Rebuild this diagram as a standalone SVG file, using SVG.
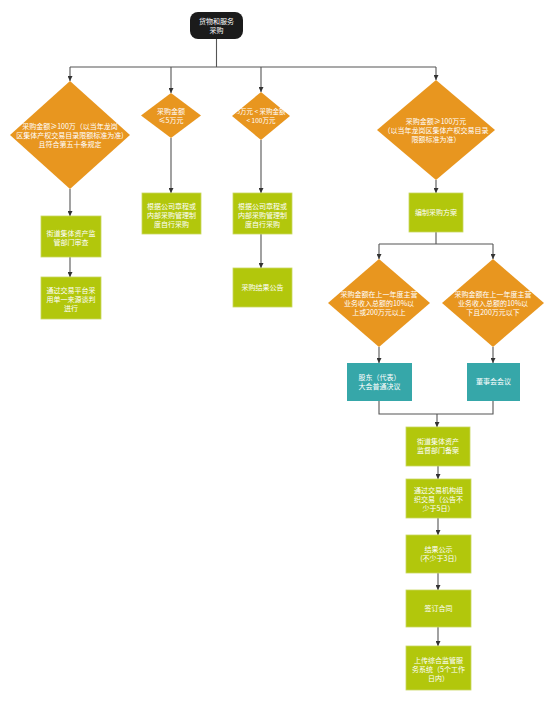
<svg xmlns="http://www.w3.org/2000/svg" width="554" height="701" viewBox="0 0 554 701">
<style>
.d{fill:#E8961F}
.g{fill:#B2C70C;stroke:#C8D860;stroke-width:0.8}
.t{fill:#36A7A9}
.c{fill:none;stroke:#555;stroke-width:1.1}
text{font-family:"Noto Sans CJK SC","Noto Sans",sans-serif;font-size:7px;fill:#fff;text-anchor:middle}
</style>
<defs>
<marker id="a" viewBox="0 0 10 10" refX="10" refY="5" markerWidth="5" markerHeight="5" orient="auto" markerUnits="userSpaceOnUse">
<path d="M0,0L10,5L0,10z" fill="#333"/>
</marker>
</defs>
<rect width="554" height="701" fill="#fff"/>
<g id="connectors">
<path class="c" d="M216.5,39V67M70,67H436"/>
<path class="c" d="M70,67V81" marker-end="url(#a)"/>
<path class="c" d="M171,67V93" marker-end="url(#a)"/>
<path class="c" d="M261,67V92" marker-end="url(#a)"/>
<path class="c" d="M436,67V80" marker-end="url(#a)"/>
<path class="c" d="M70,189V216" marker-end="url(#a)"/>
<path class="c" d="M70,257V277" marker-end="url(#a)"/>
<path class="c" d="M171,138V193" marker-end="url(#a)"/>
<path class="c" d="M261,140V193" marker-end="url(#a)"/>
<path class="c" d="M261,234V268" marker-end="url(#a)"/>
<path class="c" d="M436,180V193" marker-end="url(#a)"/>
<path class="c" d="M436,232V244M379,244H493"/>
<path class="c" d="M379,244V259" marker-end="url(#a)"/>
<path class="c" d="M493,244V259" marker-end="url(#a)"/>
<path class="c" d="M379,347V363" marker-end="url(#a)"/>
<path class="c" d="M493,347V363" marker-end="url(#a)"/>
<path class="c" d="M379,401V414H493V401"/>
<path class="c" d="M437,414V427" marker-end="url(#a)"/>
<path class="c" d="M438,466V479" marker-end="url(#a)"/>
<path class="c" d="M438,518V535" marker-end="url(#a)"/>
<path class="c" d="M438,573V590" marker-end="url(#a)"/>
<path class="c" d="M438,627V646" marker-end="url(#a)"/>
</g>
<g id="root">
<rect x="190" y="12" width="53" height="27" rx="8" fill="#1b1b1b"/>
<text x="216.5" y="24">货物和服务</text>
<text x="216.5" y="33">采购</text>
</g>
<g id="d1">
<polygon class="d" points="70,81 130,135 70,189 10,135"/>
<text x="70" y="129">采购金额≥100万（以当年龙岗</text>
<text x="70" y="138">区集体产权交易目录限额标准为准)</text>
<text x="70" y="147">且符合第五十条规定</text>
</g>
<g id="d2">
<polygon class="d" points="171,93 201,115.5 171,138 141,115.5"/>
<text x="171" y="114">采购金额</text>
<text x="171" y="123">≤5万元</text>
</g>
<g id="d3">
<polygon class="d" points="261,92 290,116 261,140 232,116"/>
<text x="261" y="114" style="font-size:6.5px">5万元 &lt; 采购金额</text>
<text x="261" y="123" style="font-size:6.5px">&lt; 100万元</text>
</g>
<g id="d4">
<polygon class="d" points="436,80 495,130 436,180 377,130"/>
<text x="436" y="124">采购金额≥100万元</text>
<text x="436" y="133">（以当年龙岗区集体产权交易目录</text>
<text x="436" y="142">限额标准为准）</text>
</g>
<g id="b1">
<rect class="g" x="41" y="216" width="60" height="41"/>
<text x="71" y="236">街道集体资产监</text>
<text x="71" y="245">管部门审查</text>
</g>
<g id="b2">
<rect class="g" x="41" y="277" width="60" height="42"/>
<text x="71" y="293">通过交易平台采</text>
<text x="71" y="302">用单一来源谈判</text>
<text x="71" y="311">进行</text>
</g>
<g id="b3">
<rect class="g" x="142" y="193" width="59" height="41"/>
<text x="171.5" y="209">根据公司章程或</text>
<text x="171.5" y="218">内部采购管理制</text>
<text x="171.5" y="227">度自行采购</text>
</g>
<g id="b4">
<rect class="g" x="233" y="193" width="59" height="41"/>
<text x="262.5" y="209">根据公司章程或</text>
<text x="262.5" y="218">内部采购管理制</text>
<text x="262.5" y="227">度自行采购</text>
</g>
<g id="b5">
<rect class="g" x="233" y="268" width="59" height="39"/>
<text x="262.5" y="290">采购结果公告</text>
</g>
<g id="b6">
<rect class="g" x="409" y="193" width="54" height="39"/>
<text x="436" y="215">编制采购方案</text>
</g>
<g id="d5">
<polygon class="d" points="379,259 430,303 379,347 328,303"/>
<text x="379" y="297">采购金额在上一年度主营</text>
<text x="379" y="306">业务收入总额的10%以</text>
<text x="379" y="315">上或200万元以上</text>
</g>
<g id="d6">
<polygon class="d" points="493,259 544,303 493,347 442,303"/>
<text x="493" y="297">采购金额在上一年度主营</text>
<text x="493" y="306">业务收入总额的10%以</text>
<text x="493" y="315">下且200万元以下</text>
</g>
<g id="t1">
<rect class="t" x="347" y="363" width="65" height="38"/>
<text x="379.5" y="380">股东（代表）</text>
<text x="379.5" y="389">大会普通决议</text>
</g>
<g id="t2">
<rect class="t" x="467" y="363" width="53" height="38"/>
<text x="493.5" y="384">董事会会议</text>
</g>
<g id="b7">
<rect class="g" x="406" y="427" width="64" height="39"/>
<text x="438" y="444">街道集体资产</text>
<text x="438" y="453">监督部门备案</text>
</g>
<g id="b8">
<rect class="g" x="406" y="479" width="65" height="39"/>
<text x="438.5" y="493">通过交易机构组</text>
<text x="438.5" y="502">织交易（公告不</text>
<text x="438.5" y="511">少于5日）</text>
</g>
<g id="b9">
<rect class="g" x="406" y="535" width="65" height="38"/>
<text x="438.5" y="552">结果公示</text>
<text x="438.5" y="561">(不少于3日)</text>
</g>
<g id="b10">
<rect class="g" x="406" y="590" width="65" height="37"/>
<text x="438.5" y="611">签订合同</text>
</g>
<g id="b11">
<rect class="g" x="406" y="646" width="65" height="44"/>
<text x="438.5" y="663">上传综合监管服</text>
<text x="438.5" y="672">务系统（5个工作</text>
<text x="438.5" y="681">日内）</text>
</g>
</svg>
